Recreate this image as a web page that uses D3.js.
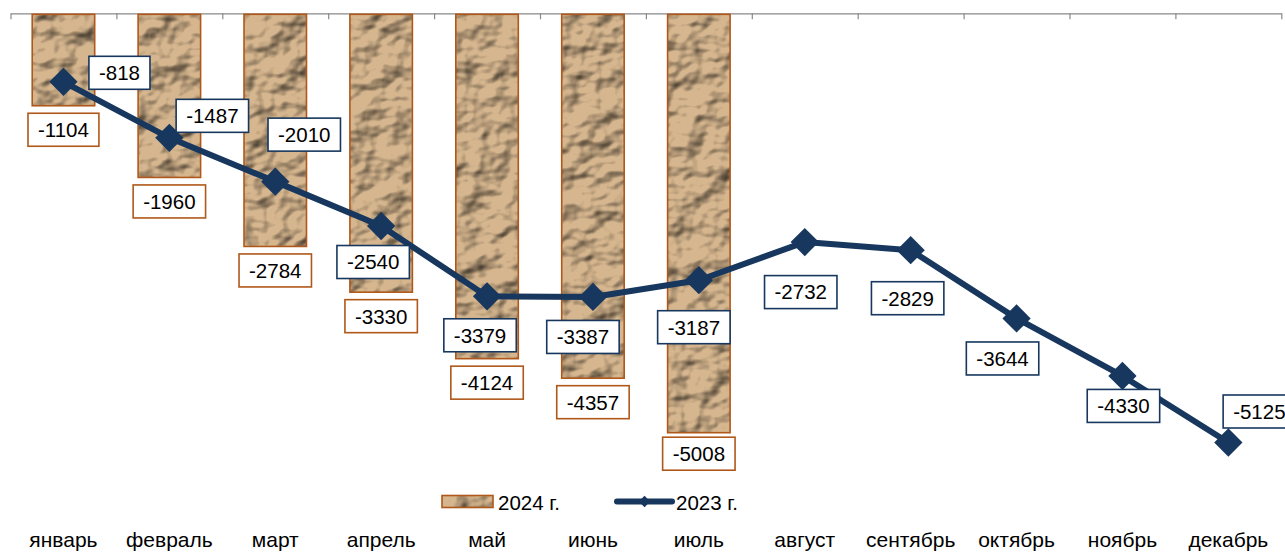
<meta charset="utf-8">
<head>
    <script type="text/javascript" src="https://cdn.jsdelivr.net/npm/d3@7/dist/d3.min.js"></script>
    <style>
        body { margin: 0; background: #fff; }
        text { font-family: Arial, "Liberation Sans", sans-serif; }
    </style>
</head>
<body>
    <svg width=1285 height=553></svg>
</body>
<script>
    let months = ["январь", "февраль", "март", "апрель", "май", "июнь",
                  "июль", "август", "сентябрь", "октябрь", "ноябрь", "декабрь"];
    let values2024 = [-1104, -1960, -2784, -3330, -4124, -4357, -5008];
    let values2023 = [-818, -1487, -2010, -2540, -3379, -3387, -3187, -2732, -2829, -3644, -4330, -5125];
    let seriesNames = ["2024 г.", "2023 г."];

    // hand placed label offsets (box centre relative to point), as in the original
    let lineLabelShift = [[56, -9], [43, -22], [29, -47], [-8, 36], [-7, 39], [-10, 40],
                          [-5, 47], [-4, 50], [-3, 48], [-14, 40], [1, 30], [31, -31]];
    let barLabelShift = [24, 24, 24, 24, 24, 24, 21];

    let barColor = "#b0581a";
    let lineColor = "#17375e";

    let svg = d3.select("svg");

    // crumpled paper look for the bars
    let defs = svg.append("defs");
    let f = defs.append("filter").attr("id", "paper")
        .attr("x", 0).attr("y", 0).attr("width", 1).attr("height", 1)
        .attr("color-interpolation-filters", "sRGB");
    f.append("feTurbulence")
        .attr("type", "fractalNoise")
        .attr("baseFrequency", "0.03 0.04")
        .attr("numOctaves", 3)
        .attr("seed", 11)
        .attr("result", "noise");
    f.append("feDiffuseLighting")
        .attr("in", "noise")
        .attr("surfaceScale", 6)
        .attr("diffuseConstant", 1.22)
        .attr("lighting-color", "#ffffff")
        .attr("result", "light")
        .append("feDistantLight")
        .attr("azimuth", 225)
        .attr("elevation", 50);
    f.append("feFlood").attr("flood-color", "#d6b68e").attr("result", "tan");
    f.append("feBlend")
        .attr("in", "light")
        .attr("in2", "tan")
        .attr("mode", "multiply")
        .attr("result", "mix");
    f.append("feComposite")
        .attr("in", "mix")
        .attr("in2", "SourceGraphic")
        .attr("operator", "in");

    let left = 10.5, step = 105.9;

    let x = d3.scaleBand()
        .domain(months)
        .range([left, left + step * months.length])
        .paddingInner(0.41)
        .paddingOuter(0.205);

    let y = d3.scaleLinear()
        .domain([0, -5008])
        .range([13.3, 432.7]);

    let cx = function (i) { return x(months[i]) + x.bandwidth() / 2; };

    // top axis with ticks between categories
    let edges = d3.scaleLinear().domain([0, months.length]).range([left, left + step * months.length]);
    let topAxis = svg.append("g")
        .attr("transform", `translate(0, ${y(0)})`)
        .call(d3.axisBottom(edges).tickValues(d3.range(months.length + 1))
            .tickFormat("").tickSize(6).tickSizeOuter(0));
    topAxis.selectAll("path, line").attr("stroke", "#898989").attr("stroke-width", 1.2);

    // bars
    let bars = svg.append("g");
    bars.selectAll("rect.fill")
        .data(values2024)
        .enter()
        .append("rect")
        .attr("x", function (d, i) { return x(months[i]); })
        .attr("y", y(0) + 1)
        .attr("width", x.bandwidth())
        .attr("height", function (d) { return y(d) - y(0) - 1; })
        .attr("fill", "#c9a67a")
        .attr("filter", "url(#paper)");
    bars.selectAll("rect.edge")
        .data(values2024)
        .enter()
        .append("rect")
        .attr("x", function (d, i) { return x(months[i]); })
        .attr("y", y(0) + 1)
        .attr("width", x.bandwidth())
        .attr("height", function (d) { return y(d) - y(0) - 1; })
        .attr("fill", "none")
        .attr("stroke", barColor)
        .attr("stroke-width", 1.6);

    // line
    let line = d3.line()
        .x(function (d, i) { return cx(i); })
        .y(function (d) { return y(d); });

    svg.append("path")
        .datum(values2023)
        .attr("d", line)
        .attr("fill", "none")
        .attr("stroke", lineColor)
        .attr("stroke-width", 6)
        .attr("stroke-linejoin", "round");

    svg.append("g").selectAll("rect")
        .data(values2023)
        .enter()
        .append("rect")
        .attr("x", -10).attr("y", -10)
        .attr("width", 20).attr("height", 20)
        .attr("fill", lineColor)
        .attr("transform", function (d, i) { return `translate(${cx(i)}, ${y(d)}) rotate(45)`; });

    // labels
    function labelBox(g, text, px, py, color) {
        let t = g.append("text")
            .attr("x", px)
            .attr("y", py)
            .attr("dy", "0.36em")
            .attr("text-anchor", "middle")
            .attr("font-size", 20.5)
            .attr("fill", "#000")
            .text(text);
        let w = t.node().getComputedTextLength() + 20;
        g.insert("rect", "text")
            .attr("x", px - w / 2)
            .attr("y", py - 16.5)
            .attr("width", w)
            .attr("height", 33)
            .attr("fill", "#fff")
            .attr("stroke", color)
            .attr("stroke-width", 1.6);
    }

    values2024.forEach(function (d, i) {
        labelBox(svg.append("g"), d, cx(i), y(d) + barLabelShift[i], barColor);
    });
    values2023.forEach(function (d, i) {
        labelBox(svg.append("g"), d, cx(i) + lineLabelShift[i][0], y(d) + lineLabelShift[i][1], lineColor);
    });

    // legend
    let legend = svg.append("g").attr("font-size", 20.5);
    legend.append("rect")
        .attr("x", 442).attr("y", 495.5)
        .attr("width", 51).attr("height", 12)
        .attr("fill", "#d4b088")
        .attr("filter", "url(#paper)");
    legend.append("rect")
        .attr("x", 442).attr("y", 495.5)
        .attr("width", 51).attr("height", 12)
        .attr("fill", "none")
        .attr("stroke", barColor)
        .attr("stroke-width", 1.6);
    legend.append("text").attr("x", 498).attr("y", 509.5).text(seriesNames[0]);
    legend.append("line")
        .attr("x1", 617).attr("x2", 672)
        .attr("y1", 501.5).attr("y2", 501.5)
        .attr("stroke", lineColor)
        .attr("stroke-width", 6)
        .attr("stroke-linecap", "round");
    legend.append("rect")
        .attr("x", -4).attr("y", -4).attr("width", 8).attr("height", 8)
        .attr("fill", lineColor)
        .attr("transform", "translate(644.5, 501.5) rotate(45)");
    legend.append("text").attr("x", 676).attr("y", 509.5).text(seriesNames[1]);

    // month labels
    let bottomAxis = svg.append("g")
        .attr("transform", "translate(0, 532)")
        .call(d3.axisBottom(x).tickSize(0).tickPadding(0));
    bottomAxis.select(".domain").remove();
    bottomAxis.selectAll("text")
        .attr("font-size", 21)
        .attr("font-family", "Arial, 'Liberation Sans', sans-serif")
        .attr("fill", "#000");
</script>
